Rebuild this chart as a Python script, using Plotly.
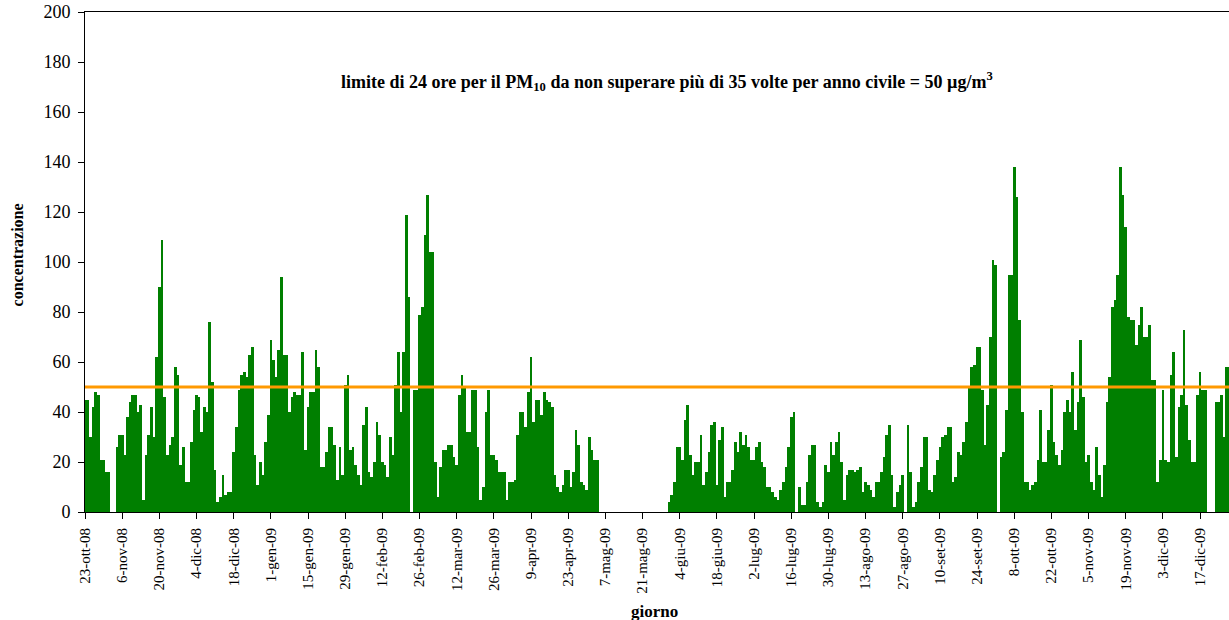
import pandas as pd
import plotly.graph_objects as go

# Daily PM10 concentrations (µg/m3), one list per month; None = missing day
oct_2008 = [45, 45, 30, 42, 48, 47, 21, 21, 16]  # from 23 Oct
nov_2008 = [16, None, None, 26, 31, 31, 23, 38, 44, 47, 47, 40, 43, 5, 23, 31, 42, 30, 62, 90,
            109, 46, 23, 27, 30, 58, 55, 19, 26, 12]
dec_2008 = [12, 28, 41, 47, 46, 32, 42, 40, 76, 52, 17, 4, 6, 15, 7, 8, 8, 24, 34, 49,
            55, 56, 54, 63, 66, 23, 11, 20, 15, 28, 39]
jan_2009 = [69, 61, 54, 65, 94, 63, 63, 40, 46, 48, 47, 47, 64, 25, 42, 48, 48, 65, 58, 18,
            18, 24, 34, 34, 27, 13, 26, 15, 51, 55, 25]
feb_2009 = [26, 19, 15, 11, 35, 42, 16, 14, 20, 36, 31, 20, 19, 14, 30, 23, 51, 64, 40, 64,
            119, 86, None, 49, 49, 79, 82, 111]
mar_2009 = [127, 104, 104, 20, 6, 18, 25, 25, 27, 27, 22, 19, 47, 55, 50, 32, 32, 49, 49, 26,
            5, 10, 40, 49, 23, 23, 21, 16, 16, 16, 5]
apr_2009 = [12, 12, 13, 31, 40, 40, 34, 48, 62, 36, 45, 45, 39, 48, 45, 44, 42, 15, 10, 8,
            11, 17, 17, 10, 16, 33, 27, 12, 11, 9]
may_2009 = [30, 25, 21, 21, None, None, None, None, None, None, None, None, None, None, None, None,
            None, None, None, None, None, None, None, None, None, None, None, None, None, None, 4]
jun_2009 = [7, 12, 26, 26, 21, 37, 43, 23, 15, 20, 20, 31, 11, 16, 24, 35, 36, 11, 29, 34,
            6, 12, 12, 17, 28, 24, 32, 27, 31, 26]
jul_2009 = [21, 21, 26, 28, 20, 18, 10, 10, 8, 6, 5, 9, 12, 18, 26, 38, 40, None, 10, 3,
            3, 12, 23, 27, 27, 4, 2, 4, 19, 16, 28]
aug_2009 = [23, 28, 32, 20, 5, 15, 17, 17, 16, 17, 18, 8, 12, 11, 9, 6, 12, 12, 16, 22,
            31, 35, 15, 2, 8, 11, 15, None, 35, 16, 2]
sep_2009 = [4, 12, 18, 30, 30, 9, 8, 15, 21, 26, 30, 31, 34, 34, 12, 14, 24, 23, 28, 36,
            50, 58, 59, 66, 66, 49, 27, 43, 70, 101]
oct_2009 = [99, None, 22, 24, 41, 95, 95, 138, 126, 77, 40, 12, 12, 9, 11, 12, 21, 41, 20, 20,
            33, 51, 28, 23, 19, 25, 40, 45, 40, 56, 33]
nov_2009 = [44, 69, 46, 20, 23, 12, 9, 26, 15, 6, 19, 44, 54, 82, 85, 95, 138, 127, 114, 78,
            77, 77, 67, 75, 82, 70, 70, 75, 53, 53]
dec_2009 = [12, 21, 49, 21, 20, 55, 64, 22, 42, 47, 73, 43, 29, 20, 20, 47, 56, 49, 49, None,
            None, None, 44, 44, 47, 30, 58, 58, 58]

month_starts = ["2008-10-23", "2008-11-01", "2008-12-01", "2009-01-01", "2009-02-01",
                "2009-03-01", "2009-04-01", "2009-05-01", "2009-06-01", "2009-07-01",
                "2009-08-01", "2009-09-01", "2009-10-01", "2009-11-01", "2009-12-01"]
month_values = [oct_2008, nov_2008, dec_2008, jan_2009, feb_2009, mar_2009, apr_2009, may_2009,
                jun_2009, jul_2009, aug_2009, sep_2009, oct_2009, nov_2009, dec_2009]

tick_dates = ["2008-10-23", "2008-11-06", "2008-11-20", "2008-12-04", "2008-12-18",
              "2009-01-01", "2009-01-15", "2009-01-29", "2009-02-12", "2009-02-26",
              "2009-03-12", "2009-03-26", "2009-04-09", "2009-04-23", "2009-05-07",
              "2009-05-21", "2009-06-04", "2009-06-18", "2009-07-02", "2009-07-16",
              "2009-07-30", "2009-08-13", "2009-08-27", "2009-09-10", "2009-09-24",
              "2009-10-08", "2009-10-22", "2009-11-05", "2009-11-19", "2009-12-03",
              "2009-12-17"]
tick_labels = ["23-ott-08", "6-nov-08", "20-nov-08", "4-dic-08", "18-dic-08",
               "1-gen-09", "15-gen-09", "29-gen-09", "12-feb-09", "26-feb-09",
               "12-mar-09", "26-mar-09", "9-apr-09", "23-apr-09", "7-mag-09",
               "21-mag-09", "4-giu-09", "18-giu-09", "2-lug-09", "16-lug-09",
               "30-lug-09", "13-ago-09", "27-ago-09", "10-set-09", "24-set-09",
               "8-ott-09", "22-ott-09", "5-nov-09", "19-nov-09", "3-dic-09",
               "17-dic-09"]
y_ticks = [0, 20, 40, 60, 80, 100, 120, 140, 160, 180, 200]

limit_value = 50

x_dates = []
y_vals = []
for start, vals in zip(month_starts, month_values):
    x_dates += list(pd.date_range(start, periods=len(vals), freq="D"))
    y_vals += vals

FONT = "Liberation Serif"

fig = go.Figure()
fig.add_trace(go.Bar(
    x=x_dates, y=y_vals,
    width=86400000,
    marker=dict(color="#007F00", line=dict(width=0)),
    showlegend=False,
))

fig.add_shape(type="line", xref="paper", yref="y", x0=0, x1=1, y0=limit_value, y1=limit_value,
              line=dict(color="#FF9900", width=3))

fig.add_annotation(
    text="<b>limite di 24 ore per il PM<sub>10</sub> da non superare più di 35 volte per anno civile = 50 µg/m<sup>3</sup></b>",
    xref="paper", yref="paper", x=0.509, y=0.862, showarrow=False,
    font=dict(family=FONT, size=18, color="black"), xanchor="center", yanchor="middle")
fig.add_annotation(
    text="<b>concentrazione</b>", xref="paper", yref="paper", x=-0.0586, y=0.515,
    showarrow=False, textangle=-90, xanchor="center", yanchor="middle",
    font=dict(family=FONT, size=16, color="black"))
fig.add_annotation(
    text="<b>giorno</b>", xref="paper", yref="paper", x=0.498, y=-0.198,
    showarrow=False, xanchor="center", yanchor="middle",
    font=dict(family=FONT, size=17, color="black"))

# Plot area at x 85-1229, y 12-512 of the 1229x620 page
fig.update_layout(
    width=1229, height=620,
    margin=dict(l=85, r=0, t=12, b=108),
    paper_bgcolor="white", plot_bgcolor="white",
    bargap=0,
    font=dict(family=FONT, color="black"),
    xaxis=dict(
        type="date", automargin=False,
        range=["2008-10-23 00:00", "2009-12-27 21:30"],
        tickmode="array", tickvals=tick_dates, ticktext=tick_labels,
        tickangle=-90, tickfont=dict(family=FONT, size=15, color="black"),
        ticks="outside", ticklen=6, tickcolor="black", tickwidth=1,
        ticklabelstandoff=3,
        showline=True, linecolor="black", linewidth=1, mirror=True,
        showgrid=False, zeroline=False,
    ),
    yaxis=dict(
        automargin=False,
        range=[0, 200],
        tickmode="array", tickvals=y_ticks,
        tickfont=dict(family=FONT, size=18, color="black"),
        ticks="outside", ticklen=6, tickcolor="black", tickwidth=1,
        ticklabelstandoff=4, ticklabeloverflow="allow",
        showline=True, linecolor="black", linewidth=1,
        showgrid=False, zeroline=False,
    ),
)

fig.write_html(
    "out.html",
    config={"displayModeBar": False},
    post_script="document.body.style.margin='0';document.body.style.overflow='hidden';",
)
